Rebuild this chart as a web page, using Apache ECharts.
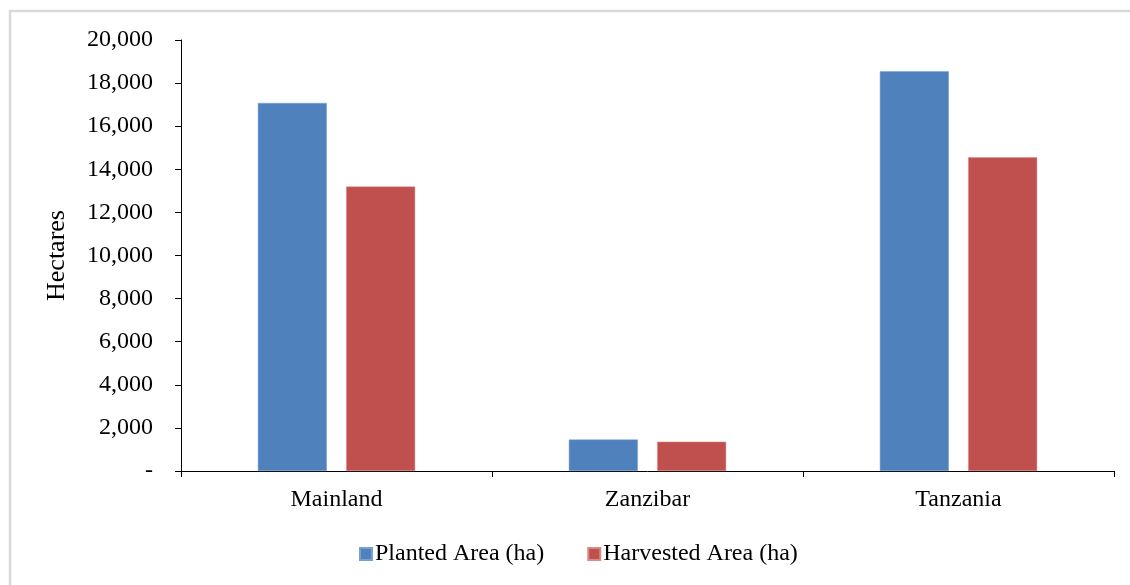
<!DOCTYPE html>
<html>
<head>
<meta charset="utf-8">
<script src="https://cdn.jsdelivr.net/npm/echarts@6/dist/echarts.min.js"></script>
<style>
html,body{margin:0;padding:0;background:#fff;}
#chart{width:1130px;height:585px;}
</style>
</head>
<body>
<div id="chart"></div>
<script>
var categories = ['Mainland', 'Zanzibar', 'Tanzania'];
var plantedArea = [17080, 1460, 18550];
var harvestedArea = [13200, 1360, 14560];
var seriesNames = ['Planted Area (ha)', 'Harvested Area (ha)'];
var yAxisName = 'Hectares';

var FONT = '"Liberation Serif", "Times New Roman", serif';
var chart = echarts.init(document.getElementById('chart'), null, {renderer: 'canvas'});
chart.setOption({
  backgroundColor: '#ffffff',
  animation: false,
  textStyle: {fontFamily: FONT, color: '#000'},
  graphic: [{
    type: 'rect',
    shape: {x: 10, y: 11, width: 1140, height: 600},
    style: {fill: 'none', stroke: '#d9d9d9', lineWidth: 2.5},
    silent: true
  }],
  grid: {left: 181, right: 16, top: 40, bottom: 114, containLabel: false},
  legend: {
    left: 354, top: 537,
    itemWidth: 12, itemHeight: 12, itemGap: 43,
    icon: 'rect',
    textStyle: {fontFamily: FONT, fontSize: 24, color: '#000', padding: [0, 0, 0, -2]},
    data: seriesNames
  },
  xAxis: {
    type: 'category',
    data: categories,
    axisLine: {lineStyle: {color: '#000', width: 1}},
    axisTick: {show: true, length: 6, lineStyle: {color: '#000'}},
    axisLabel: {fontFamily: FONT, fontSize: 24, color: '#000', margin: 17},
    splitLine: {show: false}
  },
  yAxis: {
    type: 'value',
    min: 0, max: 20000, interval: 2000,
    name: yAxisName,
    nameLocation: 'middle',
    nameRotate: 90,
    nameGap: 111,
    nameTextStyle: {fontFamily: FONT, fontSize: 26, color: '#000'},
    axisLine: {show: true, lineStyle: {color: '#000', width: 1}},
    axisTick: {show: true, length: 6, lineStyle: {color: '#000'}},
    axisLabel: {
      fontFamily: FONT, fontSize: 24, color: '#000', margin: 28,
      formatter: function (v) { return v === 0 ? '-' : v.toLocaleString('en-US'); }
    },
    splitLine: {show: false}
  },
  series: [{
    name: seriesNames[0],
    type: 'bar',
    data: plantedArea,
    barWidth: 69,
    barGap: '28%',
    itemStyle: {color: '#4F81BD', borderColor: '#7aa0d0', borderWidth: 0.5}
  }, {
    name: seriesNames[1],
    type: 'bar',
    data: harvestedArea,
    barWidth: 69,
    itemStyle: {color: '#C0504D', borderColor: '#d88a88', borderWidth: 0.5}
  }]
});
</script>
</body>
</html>
